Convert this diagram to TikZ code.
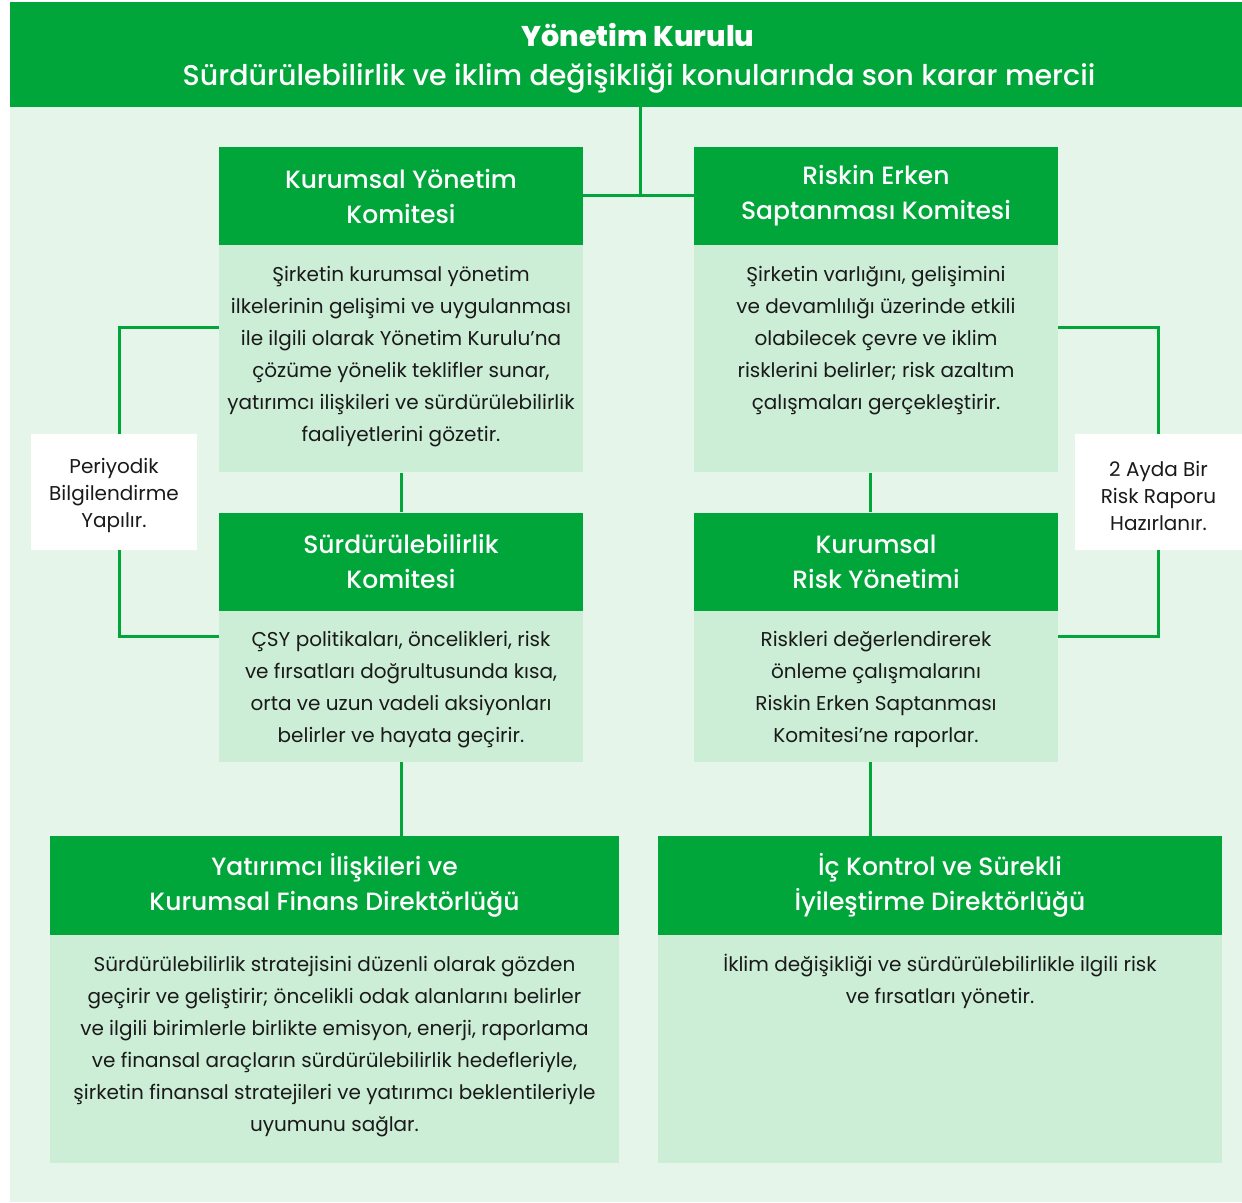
\documentclass[tikz,border=0pt]{standalone}
\usepackage{fontspec}
\setmainfont{Poppins}
\newfontfamily\medfont{Poppins Medium}
\usetikzlibrary{positioning}
\definecolor{dkgreen}{HTML}{00A63A}
\definecolor{bggreen}{HTML}{E5F5EA}
\definecolor{boxgreen}{HTML}{CCEDD6}
\definecolor{txtblack}{HTML}{1A1A1A}
% top aligned text in a fixed body box: height, width, lines
\newcommand{\boxtext}[3]{\parbox[b][#1][t]{#2}{\centering\rule{0pt}{36pt}#3}}

\begin{document}
\begin{tikzpicture}[x=1pt,y=-1pt,
    toptitle/.style={fill=dkgreen,text=white,minimum width=1232pt,minimum height=105pt,
      align=center,inner sep=0pt,font=\medfont\fontsize{28.5}{39}\selectfont},
    headbox/.style={fill=dkgreen,text=white,minimum width=364pt,minimum height=98pt,
      align=center,inner sep=0pt,font=\medfont\fontsize{25}{35}\selectfont},
    bodybox/.style={fill=boxgreen,text=txtblack,inner sep=0pt,anchor=north,
      font=\fontsize{20}{32}\selectfont},
    notebox/.style={fill=white,text=txtblack,minimum width=166pt,minimum height=116pt,
      align=center,inner sep=0pt,font=\fontsize{20}{27}\selectfont},
    link/.style={draw=dkgreen,line width=3pt}]
    \useasboundingbox (0,0) rectangle (1242,1202);
    \fill[bggreen] (10,2) rectangle (1242,1202);

    %%% Board on top
    \node[toptitle] (kurul) at (626,54.5)
      {\hspace*{24pt}\rule{0pt}{31pt}{\bfseries Yönetim Kurulu}\\
       \hspace*{26pt}Sürdürülebilirlik ve iklim değişikliği konularında son karar mercii};

    %%% Committees
    \node[headbox] (kykh) at (401,196) {Kurumsal Yönetim\\Komitesi};
    \node[bodybox,below=0pt of kykh] (kykb) {\boxtext{227pt}{364pt}{%
      Şirketin kurumsal yönetim\\
      ilkelerinin gelişimi ve uygulanması\\
      ile ilgili olarak Yönetim Kurulu’na\\
      çözüme yönelik teklifler sunar,\\
      yatırımcı ilişkileri ve sürdürülebilirlik\\
      faaliyetlerini gözetir.}};

    \node[headbox] (rekh) at (876,196) {Riskin Erken\\Saptanması Komitesi};
    \node[bodybox,below=0pt of rekh] (rekb) {\boxtext{227pt}{364pt}{%
      Şirketin varlığını, gelişimini\\
      ve devamlılığı üzerinde etkili\\
      olabilecek çevre ve iklim\\
      risklerini belirler; risk azaltım\\
      çalışmaları gerçekleştirir.}};

    \node[headbox] (skh) at (401,561.5) {Sürdürülebilirlik\\Komitesi};
    \node[bodybox,below=0pt of skh] (skb) {\boxtext{151pt}{364pt}{%
      ÇSY politikaları, öncelikleri, risk\\
      ve fırsatları doğrultusunda kısa,\\
      orta ve uzun vadeli aksiyonları\\
      belirler ve hayata geçirir.}};

    \node[headbox] (kryh) at (876,561.5) {Kurumsal\\Risk Yönetimi};
    \node[bodybox,below=0pt of kryh] (kryb) {\boxtext{151pt}{364pt}{%
      Riskleri değerlendirerek\\
      önleme çalışmalarını\\
      Riskin Erken Saptanması\\
      Komitesi’ne raporlar.}};

    %%% Directorates
    \node[headbox,minimum width=569pt,minimum height=99pt] (yifh) at (334.5,885.5)
      {Yatırımcı İlişkileri ve\\Kurumsal Finans Direktörlüğü};
    \node[bodybox,below=0pt of yifh] (yifb) {\boxtext{228pt}{569pt}{%
      Sürdürülebilirlik stratejisini düzenli olarak gözden\\
      geçirir ve geliştirir; öncelikli odak alanlarını belirler\\
      ve ilgili birimlerle birlikte emisyon, enerji, raporlama\\
      ve finansal araçların sürdürülebilirlik hedefleriyle,\\
      şirketin finansal stratejileri ve yatırımcı beklentileriyle\\
      uyumunu sağlar.}};

    \node[headbox,minimum width=564pt,minimum height=99pt] (icsh) at (940,885.5)
      {İç Kontrol ve Sürekli\\İyileştirme Direktörlüğü};
    \node[bodybox,below=0pt of icsh] (icsb) {\boxtext{228pt}{564pt}{%
      İklim değişikliği ve sürdürülebilirlikle ilgili risk\\
      ve fırsatları yönetir.}};

    %%% Side notes
    \node[notebox] (periyot) at (114,492) {\rule{0pt}{23pt}Periyodik\\Bilgilendirme\\Yapılır.};
    \node[notebox,minimum width=167pt] (rapor) at (1158.5,492) {\rule{0pt}{23pt}2 Ayda Bir\\Risk Raporu\\Hazırlanır.};

    %%% Connectors
    \coordinate (hub) at (640,195);
    \draw[link] (kurul.south -| hub) -- (hub);
    \draw[link] (kykh.east |- hub) -- (rekh.west |- hub);
    \draw[link] ([yshift=-82pt]kykb.north west) -| ([xshift=5pt]periyot.north);
    \draw[link] ([xshift=5pt]periyot.south) |- ([yshift=-26pt]skb.north west);
    \draw[link] ([yshift=-82pt]rekb.north east) -| (rapor.north);
    \draw[link] (rapor.south) |- ([yshift=-26pt]kryb.north east);
    \draw[link] (kykb.south) -- (skh.north);
    \draw[link] ([xshift=-6pt]rekb.south) -- ([xshift=-6pt]kryh.north);
    \draw[link] (skb.south) -- (skb.south |- yifh.north);
    \draw[link] ([xshift=-6pt]kryb.south) -- ([xshift=-6pt]kryb.south |- icsh.north);
\end{tikzpicture}
\end{document}
